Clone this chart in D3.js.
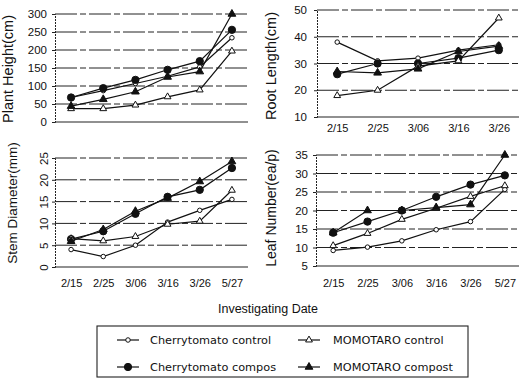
<!DOCTYPE html>
<html><head><meta charset="utf-8">
<script src="https://cdn.jsdelivr.net/npm/d3@7"></script>
<style>
html,body{margin:0;padding:0;background:#fff;}
svg{display:block;}
text{font-family:"Liberation Sans",Arial,sans-serif;fill:#111;}
</style></head>
<body>
<svg id="c" width="520" height="378"></svg>
<script>
// ---- data ----
const dates6 = ["2/15","2/25","3/06","3/16","3/26","5/27"];
const dates5 = ["2/15","2/25","3/06","3/16","3/26"];
const seriesNames = ["Cherrytomato control","Cherrytomato compos","MOMOTARO control","MOMOTARO compost"];

// Plant Height (cm)
const heightCherryControl = [68, 87, 107, 127, 153, 234];
const heightCherryCompost = [68, 94, 117, 145, 169, 256];
const heightMomoControl   = [37, 37, 47, 70, 89, 197];
const heightMomoCompost   = [44, 63, 84, 125, 140, 300];
const heightTicks = [0, 50, 100, 150, 200, 250, 300];

// Root Length (cm)
const rootCherryControl = [38, 31, 32, 35, 37];
const rootCherryCompost = [26, 30, 30, 32, 35];
const rootMomoControl   = [18, 20, 29, 31, 47];
const rootMomoCompost   = [27, 26.5, 28, 34.5, 36.5];
const rootTicks = [10, 20, 30, 40, 50];

// Stem Diameter (mm)
const stemCherryControl = [4, 2.4, 5, 10.3, 13, 15.5];
const stemCherryCompost = [6.4, 8.2, 12.2, 16.1, 17.7, 22.7];
const stemMomoControl   = [6.5, 6, 7, 9.8, 10.5, 17.6];
const stemMomoCompost   = [5.9, 8.6, 12.8, 15.8, 19.6, 24.2];
const stemTicks = [0, 5, 10, 15, 20, 25];

// Leaf Number (ea/p)
const leafCherryControl = [9.2, 10.1, 11.8, 14.8, 17, 25.7];
const leafCherryCompost = [14, 17, 20, 23.7, 27, 29.5];
const leafMomoControl   = [10.5, 13.8, 17.6, 20.6, 23.8, 26.7];
const leafMomoCompost   = [14, 20, 20, 20.8, 21.6, 35];
const leafTicks = [5, 10, 15, 20, 25, 30, 35];

// ---- drawing ----
const svg = d3.select("#c");
const markerSpec = [
  {type: d3.symbolCircle, size: 16, fill: "#fff"},
  {type: d3.symbolCircle, size: 42, fill: "#111"},
  {type: d3.symbolTriangle, size: 20, fill: "#fff"},
  {type: d3.symbolTriangle, size: 26, fill: "#111"}
];

function panel(cfg) {
  const x = d3.scalePoint().domain(cfg.cats).range(cfg.xr).padding(0.5);
  const y = d3.scaleLinear().domain(cfg.yd).range(cfg.yr);
  const g = svg.append("g");
  // gridlines
  g.append("g").selectAll("line").data(cfg.ticks.slice(1)).join("line")
    .attr("x1", cfg.xr[0]).attr("x2", Math.min(cfg.xr[1], 519))
    .attr("y1", d => y(d)).attr("y2", d => y(d))
    .attr("stroke", "#222").attr("stroke-width", 1)
    .attr("stroke-dasharray", "22,3,6,3");
  // y axis
  const ya = d3.axisLeft(y).tickValues(cfg.ticks).tickSize(3).tickPadding(cfg.tickPad || 5);
  const yg = g.append("g").attr("transform", `translate(${cfg.xr[0]},0)`).call(ya);
  yg.select(".domain").attr("stroke", "#222").attr("stroke-dasharray", "2,1");
  yg.selectAll(".tick line").attr("stroke", "#222");
  yg.selectAll("text").style("font-size", "11.5px").attr("fill", "#111");
  if (cfg.rotTicks) {
    yg.selectAll("text").attr("text-anchor", "middle").attr("x", null).attr("dy", null)
      .attr("transform", "translate(-11,0) rotate(-90)").attr("dy", "0.35em");
  }
  // x axis
  const xa = d3.axisBottom(x).tickSize(0).tickPadding(cfg.xPad || 9);
  const xg = g.append("g").attr("transform", `translate(0,${cfg.yr[0]})`).call(xa);
  xg.select(".domain").attr("stroke", "#222").attr("stroke-width", 1.1)
    .attr("d", `M${cfg.xr[0]},0H${Math.min(cfg.xr[1],519)}`);
  xg.selectAll("text").style("font-size", "11px").attr("fill", "#111");
  if (!cfg.showX) xg.selectAll("text").remove();
  // title
  g.append("text").attr("transform", `translate(${cfg.tx},${cfg.ty}) rotate(-90)`)
    .attr("text-anchor", "middle").style("font-size", cfg.tfs || "14px").text(cfg.title);
  // series
  const line = d3.line().x((d, i) => x(cfg.cats[i])).y(d => y(d));
  cfg.series.forEach((s, k) => {
    g.append("path").attr("d", line(s)).attr("fill", "none")
      .attr("stroke", "#111").attr("stroke-width", 1.2);
  });
  cfg.series.forEach((s, k) => {
    const m = markerSpec[k];
    g.append("g").selectAll("path").data(s).join("path")
      .attr("d", d3.symbol().type(m.type).size(m.size))
      .attr("transform", (d, i) => `translate(${x(cfg.cats[i])},${y(d)})`)
      .attr("fill", m.fill).attr("stroke", "#111").attr("stroke-width", 1);
  });
}

panel({cats: dates6, xr: [55, 248], yd: [0, 300], yr: [122, 14], ticks: heightTicks,
  series: [heightCherryControl, heightCherryCompost, heightMomoControl, heightMomoCompost],
  showX: false, title: "Plant Height(cm)", tx: 13, ty: 69, tfs: "14.5px"});
panel({cats: dates5, xr: [317, 519], yd: [10, 50], yr: [117, 10], ticks: rootTicks,
  series: [rootCherryControl, rootCherryCompost, rootMomoControl, rootMomoCompost],
  showX: true, title: "Root Length(cm)", tx: 276, ty: 66, tfs: "14.5px", tickPad: 7, xPad: 7});
panel({cats: dates6, xr: [55, 248], yd: [0, 25], yr: [267, 158], ticks: stemTicks,
  series: [stemCherryControl, stemCherryCompost, stemMomoControl, stemMomoCompost],
  showX: true, title: "Stem Diameter(mm)", tx: 17, ty: 203, tfs: "13.5px", rotTicks: true, xPad: 12});
panel({cats: dates6, xr: [316, 522], yd: [5, 35], yr: [266, 155], ticks: leafTicks,
  series: [leafCherryControl, leafCherryCompost, leafMomoControl, leafMomoCompost],
  showX: true, title: "Leaf Number(ea/p)", tx: 276, ty: 208, tfs: "14px", tickPad: 5, xPad: 13});

// x-axis title
svg.append("text").attr("x", 268).attr("y", 313).attr("text-anchor", "middle")
  .style("font-size", "12.5px").text("Investigating Date");

// legend
const lg = svg.append("g");
lg.append("rect").attr("x", 97).attr("y", 326).attr("width", 371).attr("height", 51)
  .attr("fill", "none").attr("stroke", "#222").attr("stroke-width", 1.1);
const legPos = [
  {x: 117, tx: 150, y: 340},
  {x: 117, tx: 150, y: 367},
  {x: 298, tx: 333, y: 340},
  {x: 298, tx: 333, y: 367}
];
seriesNames.forEach((n, k) => {
  const p = legPos[k], m = markerSpec[k];
  lg.append("line").attr("x1", p.x).attr("x2", p.x + 22).attr("y1", p.y).attr("y2", p.y)
    .attr("stroke", "#111").attr("stroke-width", 1.2);
  lg.append("path").attr("d", d3.symbol().type(m.type).size(m.size))
    .attr("transform", `translate(${p.x + 11},${p.y})`)
    .attr("fill", m.fill).attr("stroke", "#111");
  lg.append("text").attr("x", p.tx).attr("y", p.y).attr("dy", "0.35em")
    .style("font-family", "'DejaVu Sans',sans-serif").style("font-size", "11.3px").text(n);
});
</script>
</body></html>
